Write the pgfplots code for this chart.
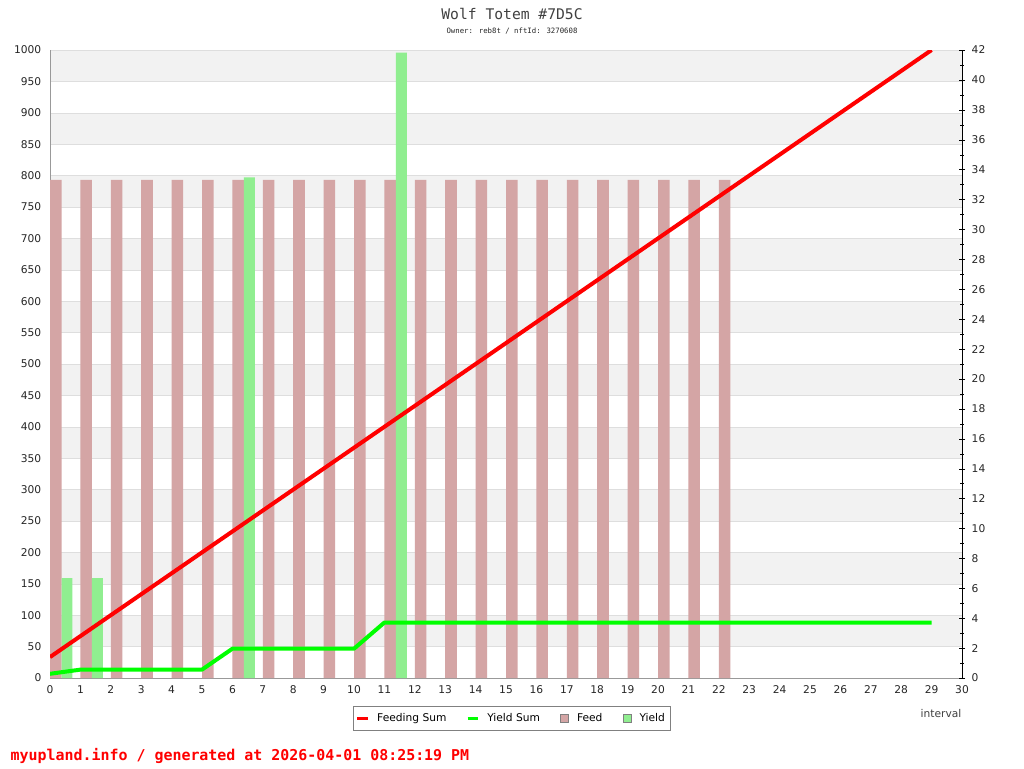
\documentclass[border=0pt]{standalone}
\usepackage{fontspec}
\setmainfont{DejaVu Sans}
\newfontfamily\monofont{DejaVu Sans Mono}
\usepackage{pgfplots}
\pgfplotsset{compat=1.18}
\definecolor{feedc}{HTML}{D4A5A5}
\definecolor{yieldc}{HTML}{90EE90}
\definecolor{bandc}{HTML}{F2F2F2}
\definecolor{gridc}{HTML}{DEDEDE}
\definecolor{redl}{HTML}{FF0000}
\definecolor{greenl}{HTML}{00FF00}
\begin{document}
\begin{tikzpicture}
\useasboundingbox (0,0) rectangle (768pt,576pt);
\fill[white] (0,0) rectangle (768pt,576pt);
% background bands
\begin{axis}[
  at={(37.5pt,67.5pt)}, anchor=south west,
  scale only axis, width=684pt, height=471pt,
  xmin=0, xmax=30, ymin=0, ymax=1000,
  hide axis,
]
\pgfplotsinvokeforeach{0,...,9}{
  \fill[bandc] (axis cs:0,{50+100*#1}) rectangle (axis cs:30,{100+100*#1});
}
\end{axis}
% bars, left axis, grid
\begin{axis}[
  at={(37.5pt,67.5pt)}, anchor=south west,
  scale only axis, width=684pt, height=471pt,
  xmin=0, xmax=30, ymin=0, ymax=1000,
  axis x line*=bottom, axis y line*=left,
  axis line style={draw=gray!80, -},
  xtick={0,1,...,30}, ytick={0,50,...,1000},
  major tick length=0pt,
  ymajorgrids, grid style={gridc},
  tick label style={font=\fontsize{8}{9}\selectfont, text=black!85},
  yticklabel style={xshift=-3pt},
  xticklabel style={yshift=-2.5pt},
  /pgf/number format/assume math mode=true,
  /pgf/number format/set thousands separator={},
]
\addplot[ybar, bar width=0.38, bar shift=0.19, fill=feedc, draw=none] coordinates {
 (0,793)(1,793)(2,793)(3,793)(4,793)(5,793)(6,793)(7,793)(8,793)(9,793)(10,793)(11,793)
 (12,793)(13,793)(14,793)(15,793)(16,793)(17,793)(18,793)(19,793)(20,793)(21,793)(22,793)};
\addplot[ybar, bar width=0.36, bar shift=0.56, fill=yieldc, draw=none] coordinates {
 (0,159)(1,159)(6,797)(11,996)};
\end{axis}
% lines, right axis
\begin{axis}[
  at={(37.5pt,67.5pt)}, anchor=south west,
  scale only axis, width=684pt, height=471pt,
  xmin=0, xmax=30, ymin=0, ymax=42,
  axis x line=none, axis y line*=right,
  axis line style={draw=black, -},
  ytick={0,2,...,42}, minor ytick={1,3,...,41},
  tick align=center, major tick length=4.5pt, minor tick length=2.5pt,
  tick style={black},
  tick label style={font=\fontsize{8}{9}\selectfont, text=black!85},
  yticklabel style={xshift=1.5pt},
  /pgf/number format/assume math mode=true,
  legend columns=4,
  legend style={at={(0.5066,-0.0645)}, anchor=center, draw=gray, line width=0.8pt,
    font=\fontsize{8}{9}\selectfont, inner xsep=2pt, inner ysep=3pt,
    /tikz/every odd column/.append style={column sep=4pt},
    /tikz/every even column/.append style={column sep=13pt}},
]
\addplot[redl, line width=3pt, line join=round,
  legend image code/.code={\draw[redl, line width=1.6pt] (0pt,0pt) -- (8pt,0pt);}] coordinates {
 (0,1.4)(1,2.8)(2,4.2)(3,5.6)(4,7)(5,8.4)(6,9.8)(7,11.2)(8,12.6)(9,14)(10,15.4)(11,16.8)
 (12,18.2)(13,19.6)(14,21)(15,22.4)(16,23.8)(17,25.2)(18,26.6)(19,28)(20,29.4)(21,30.8)
 (22,32.2)(23,33.6)(24,35)(25,36.4)(26,37.8)(27,39.2)(28,40.6)(29,42)};
\addplot[greenl, line width=3pt, line join=round,
  legend image code/.code={\draw[greenl, line width=1.6pt] (0pt,0pt) -- (8pt,0pt);}] coordinates {
 (0,0.28)(1,0.56)(2,0.56)(3,0.56)(4,0.56)(5,0.56)(6,1.96)(7,1.96)(8,1.96)(9,1.96)(10,1.96)
 (11,3.71)(12,3.71)(13,3.71)(14,3.71)(15,3.71)(16,3.71)(17,3.71)(18,3.71)(19,3.71)(20,3.71)
 (21,3.71)(22,3.71)(23,3.71)(24,3.71)(25,3.71)(26,3.71)(27,3.71)(28,3.71)(29,3.71)};
\addlegendimage{legend image code/.code={\draw[fill=feedc, draw=gray] (0pt,-3pt) rectangle (6pt,3pt);}}
\addlegendimage{legend image code/.code={\draw[fill=yieldc, draw=gray] (0pt,-3pt) rectangle (6pt,3pt);}}
\legend{Feeding Sum, Yield Sum, Feed, Yield}
\end{axis}
\node[font={\monofont\fontsize{11}{12}\selectfont}, text=black!75] at (384pt,565.5pt) {Wolf Totem \#7D5C};
\node[font={\monofont\fontsize{5.5}{6}\selectfont}, text=black!85] at (384pt,552.75pt) {Owner: reb8t / nftId: 3270608};
\node[font=\fontsize{8}{9}\selectfont, text=black!75] at (705.75pt,40.5pt) {interval};
\node[anchor=west, font={\monofont\bfseries\fontsize{11.2}{12}\selectfont}, text=redl] at (4.5pt,9pt) {myupland.info / generated at 2026-04-01 08:25:19 PM};
\end{tikzpicture}
\end{document}
